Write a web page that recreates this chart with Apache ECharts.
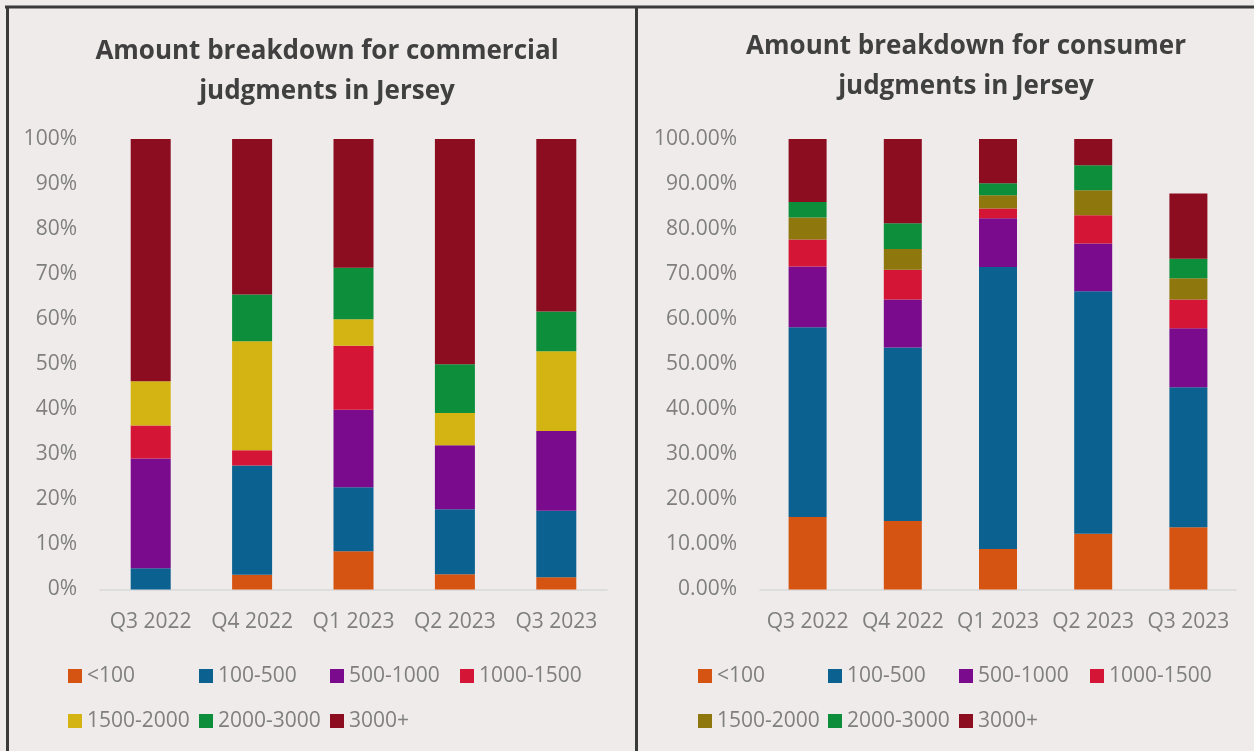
<!DOCTYPE html>
<html>
<head>
<meta charset="utf-8">
<script src="https://cdn.jsdelivr.net/npm/echarts@6/dist/echarts.min.js"></script>
<style>
  html, body { margin: 0; padding: 0; background: #EEEBEA; }
  #chart { width: 1254px; height: 751px; }
</style>
</head>
<body>
<div id="chart"></div>
<script>
// ---------- DATA ----------
const categories = ['Q3 2022', 'Q4 2022', 'Q1 2023', 'Q2 2023', 'Q3 2023'];
const bandNames = ['<100', '100-500', '500-1000', '1000-1500', '1500-2000', '2000-3000', '3000+'];

const titleCommercial = 'Amount breakdown for commercial\njudgments in Jersey';
const titleConsumer = 'Amount breakdown for consumer\njudgments in Jersey';

// Commercial judgments (% of total)
const comLt100     = [0.0, 3.3, 8.5, 3.4, 2.7];
const com100to500  = [4.7, 24.2, 14.2, 14.4, 14.8];
const com500to1000 = [24.4, 0.0, 17.2, 14.2, 17.7];
const com1000to1500 = [7.3, 3.4, 14.2, 0.0, 0.0];
const com1500to2000 = [9.8, 24.2, 5.9, 7.2, 17.7];
const com2000to3000 = [0.0, 10.4, 11.4, 10.8, 8.8];
const com3000plus  = [53.8, 34.5, 28.6, 50.0, 38.3];

// Consumer judgments (% of total)
const conLt100     = [16.1, 15.2, 9.0, 12.4, 13.8];
const con100to500  = [42.1, 38.5, 62.6, 53.8, 31.1];
const con500to1000 = [13.5, 10.7, 10.8, 10.6, 13.1];
const con1000to1500 = [6.0, 6.6, 2.2, 6.3, 6.4];
const con1500to2000 = [4.9, 4.6, 2.9, 5.5, 4.7];
const con2000to3000 = [3.4, 5.7, 2.7, 5.6, 4.3];
const con3000plus  = [14.0, 18.7, 9.8, 5.8, 14.5];

const comColors = ['#D55412', '#0B6190', '#790B8C', '#D51535', '#D4B413', '#0C8E3A', '#8C0C20'];
const conColors = ['#D55412', '#0B6190', '#790B8C', '#D51535', '#8E770D', '#0C8E3A', '#8C0C20'];

// ---------- BUILD ----------
const comSeriesData = [comLt100, com100to500, com500to1000, com1000to1500, com1500to2000, com2000to3000, com3000plus];
const conSeriesData = [conLt100, con100to500, con500to1000, con1000to1500, con1500to2000, con2000to3000, con3000plus];

const FONT = "'Open Sans', 'Noto Sans', sans-serif";
const TITLE_FONT = "'Open Sans', 'Noto Sans', sans-serif";
const GREY = '#7F7F7F';

const series = [];
bandNames.forEach((name, i) => {
  series.push({
    name: name, type: 'bar', stack: 'com', xAxisIndex: 0, yAxisIndex: 0,
    barWidth: 40, data: comSeriesData[i],
    itemStyle: { color: comColors[i] }
  });
});
bandNames.forEach((name, i) => {
  series.push({
    name: name, type: 'bar', stack: 'con', xAxisIndex: 1, yAxisIndex: 1,
    barWidth: 38, data: conSeriesData[i],
    itemStyle: { color: conColors[i] }
  });
});

function makeLegends(colX, rowY, colors) {
  return bandNames.map((name, i) => ({
    show: true,
    selectedMode: false,
    left: colX[i % 4],
    top: rowY[Math.floor(i / 4)],
    padding: 0,
    itemWidth: 14,
    itemHeight: 14,
    icon: 'rect',
    textStyle: { color: GREY, fontSize: 21, fontFamily: FONT, lineHeight: 22 },
    data: [{ name: name, itemStyle: { color: colors[i] } }]
  }));
}

const legends = [].concat(
  makeLegends([68, 199, 330, 460], [665, 710], comColors),
  makeLegends([698, 828, 959, 1090], [665, 710], conColors)
);

function xAxisCfg(gridIndex) {
  return {
    type: 'category', gridIndex: gridIndex, data: categories,
    axisLine: { show: true, lineStyle: { color: '#D9D9D9', width: 1.5 } },
    axisTick: { show: false },
    axisLabel: { color: GREY, fontSize: 21, fontFamily: FONT, margin: 22, interval: 0 }
  };
}
function yAxisCfg(gridIndex, fmt) {
  return {
    type: 'value', gridIndex: gridIndex, min: 0, max: 100, interval: 10,
    axisLine: { show: false }, axisTick: { show: false },
    splitLine: { show: false },
    axisLabel: { color: GREY, fontSize: 21, fontFamily: FONT, margin: 23, formatter: fmt }
  };
}

const option = {
  backgroundColor: '#EEEBEA',
  animation: false,
  title: [
    {
      text: titleCommercial, left: 322, top: 27, textAlign: 'center',
      textStyle: { color: '#404040', fontSize: 26, fontWeight: 'bold', fontFamily: TITLE_FONT, lineHeight: 40 }
    },
    {
      text: titleConsumer, left: 961, top: 22, textAlign: 'center',
      textStyle: { color: '#404040', fontSize: 26, fontWeight: 'bold', fontFamily: TITLE_FONT, lineHeight: 40 }
    }
  ],
  legend: legends,
  grid: [
    { left: 100, right: 647, top: 139, bottom: 161.5 },
    { left: 760, right: 18, top: 139, bottom: 161.5 }
  ],
  xAxis: [xAxisCfg(0), xAxisCfg(1)],
  yAxis: [
    yAxisCfg(0, v => v + '%'),
    yAxisCfg(1, v => v.toFixed(2) + '%')
  ],
  series: series,
  graphic: [
    { type: 'line', shape: { x1: 5, y1: 7, x2: 1254, y2: 7 }, style: { stroke: '#3A3A3A', lineWidth: 3 } },
    { type: 'line', shape: { x1: 7.5, y1: 6, x2: 7.5, y2: 751 }, style: { stroke: '#3A3A3A', lineWidth: 3 } },
    { type: 'line', shape: { x1: 636.5, y1: 6, x2: 636.5, y2: 751 }, style: { stroke: '#3A3A3A', lineWidth: 3 } }
  ]
};

const chart = echarts.init(document.getElementById('chart'), null, { renderer: 'canvas' });
chart.setOption(option);
</script>
</body>
</html>
